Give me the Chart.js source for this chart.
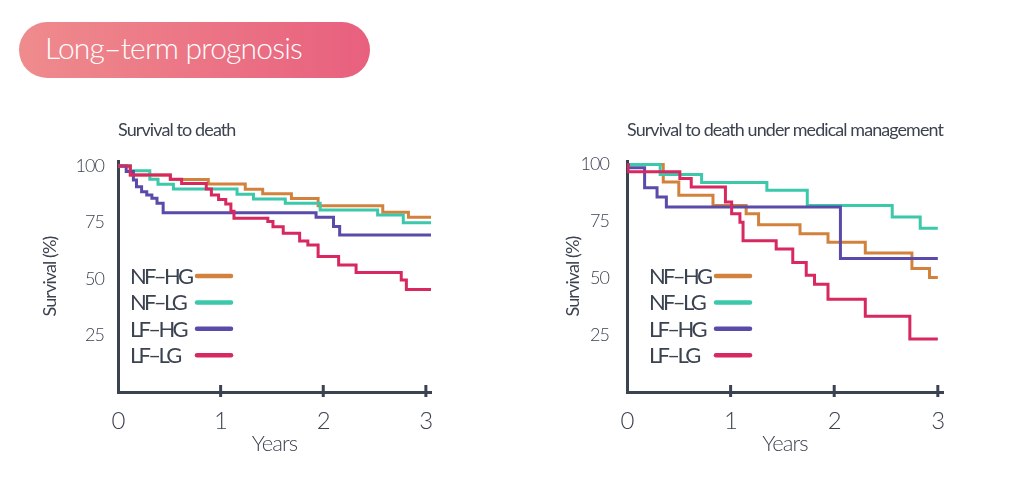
<!DOCTYPE html>
<html>
<head>
<meta charset="utf-8">
<script src="https://cdn.jsdelivr.net/npm/chart.js@4/dist/chart.umd.min.js"></script>
<style>
  html, body { margin: 0; padding: 0; background: #fff; }
  body { width: 1024px; height: 489px; position: relative; overflow: hidden; font-family: Lato, 'Open Sans', sans-serif; }
  .pill {
    position: absolute; left: 19px; top: 22px; width: 351px; height: 56px;
    border-radius: 28px; box-sizing: border-box; padding-left: 26px;
    background: linear-gradient(90deg, #ef8b8d 0%, #e8607e 100%);
    color: #fff; font-size: 30px; font-weight: 300; line-height: 50px; letter-spacing: -0.8px;
  }
  .box { position: absolute; top: 100px; width: 480px; height: 380px; }
</style>
</head>
<body>
<div class="pill">Long–term prognosis</div>
<div class="box" style="left:0px"><canvas id="leftChart"></canvas></div>
<div class="box" style="left:512px"><canvas id="rightChart"></canvas></div>
<script>
// Group labels and colours
var groups = ['NF–HG', 'NF–LG', 'LF–HG', 'LF–LG'];
var colors = ['#d2823c', '#3cc8aa', '#5a4baa', '#d7285f'];

// Axis ticks
var xTicks = [0, 1, 2, 3];
var yTicks = [25, 50, 75, 100];

// Survival to death (years, survival %)
var deathNFHG_t = [0, 0.12, 0.51, 0.88, 1.24, 1.41, 1.69, 1.95, 2.58, 2.83, 3.05];
var deathNFHG_s = [100, 96, 94, 92, 89.7, 87.7, 85.6, 82.4, 79.5, 77.3, 77.3];
var deathNFLG_t = [0, 0.12, 0.31, 0.39, 0.54, 1.16, 1.32, 1.63, 1.97, 2.53, 2.78, 3.05];
var deathNFLG_s = [100, 97.9, 94.1, 91.9, 89.8, 87.5, 85.4, 83.5, 80.5, 78.3, 74.9, 74.9];
var deathLFHG_t = [0, 0.08, 0.15, 0.18, 0.23, 0.28, 0.33, 0.38, 0.44, 1.93, 2.10, 2.16, 3.05];
var deathLFHG_s = [100, 97.5, 93.8, 90.8, 88.6, 87.2, 85.7, 83.5, 79.3, 77.3, 73.2, 69.5, 69.5];
var deathLFLG_t = [0, 0.12, 0.51, 0.62, 0.86, 0.91, 0.98, 1.05, 1.10, 1.13, 1.46, 1.51, 1.61, 1.77, 1.85, 1.95, 2.15, 2.32, 2.76, 2.81, 3.05];
var deathLFLG_s = [100, 96, 94.1, 92.3, 89.8, 87.2, 85.2, 83.2, 80, 76.9, 75.4, 73.1, 70.2, 66.8, 65, 59.9, 56.2, 52.9, 49.6, 45.4, 45.4];

// Survival to death under medical management
var medNFHG_t = [0, 0.35, 0.50, 0.83, 1.15, 1.27, 1.67, 1.94, 2.30, 2.75, 2.92, 3.0];
var medNFHG_s = [100, 92.3, 86.4, 82, 78.3, 73.5, 69.5, 65.8, 61.1, 54.3, 50.3, 50.3];
var medNFLG_t = [0, 0.32, 0.72, 1.35, 1.74, 2.56, 2.83, 3.0];
var medNFLG_s = [100, 95.6, 92, 88.6, 82, 76.9, 72, 72];
var medLFHG_t = [0, 0.01, 0.17, 0.29, 0.38, 2.06, 3.0];
var medLFHG_s = [100, 98.5, 89.7, 85.7, 81.3, 58.7, 58.7];
var medLFLG_t = [0, 0.01, 0.51, 0.62, 0.95, 1.01, 1.09, 1.12, 1.44, 1.60, 1.73, 1.81, 1.94, 2.30, 2.73, 3.0];
var medLFLG_s = [100, 96.8, 93.8, 90.1, 83.5, 78.3, 74.6, 66.5, 62.8, 56.9, 51.3, 47.3, 40.7, 33.3, 23.3, 23.3];

var textColor = '#3c4350';
var axisColor = '#3c4350';

Chart.defaults.font.family = 'Lato';
Chart.defaults.color = textColor;

// zip time and survival arrays into points
function points(t, s) {
    return t.map(function (v, i) { return { x: v, y: s[i] }; });
}

function makeDatasets(series) {
    return series.map(function (pair, i) {
        return {
            label: groups[i],
            data: points(pair[0], pair[1]),
            borderColor: colors[i],
            borderWidth: 3,
            stepped: true,
            pointRadius: 0,
            fill: false,
            order: 4 - i  // LF-LG drawn on top
        };
    });
}

// tighter text, like the original artwork
const spacingPlugin = {
    id: 'spacing',
    beforeDraw(chart) {
        chart.ctx.letterSpacing = '-0.9px';
    }
};

// small tick marks crossing the x axis
const tickMarks = {
    id: 'tickMarks',
    afterDraw(chart) {
        const ctx = chart.ctx;
        const x = chart.scales.x;
        const bottom = chart.chartArea.bottom;
        ctx.save();
        ctx.strokeStyle = axisColor;
        ctx.lineWidth = 3;
        xTicks.forEach(function (v) {
            if (v === 0) return;
            const px = x.getPixelForValue(v);
            ctx.beginPath();
            ctx.moveTo(px, bottom - 7);
            ctx.lineTo(px, bottom + 5);
            ctx.stroke();
        });
        ctx.restore();
    }
};

// legend inside the plot: text first, line swatch after
const sideLegend = {
    id: 'sideLegend',
    afterDatasetsDraw(chart, args, opts) {
        const ctx = chart.ctx;
        const area = chart.chartArea;
        ctx.save();
        ctx.font = '22px Lato';
        ctx.letterSpacing = '-2.7px';
        ctx.textBaseline = 'alphabetic';
        ctx.textAlign = 'left';
        chart.data.datasets.forEach(function (ds, i) {
            const y = area.top + opts.top + i * opts.gap;
            const x = area.left + opts.left;
            ctx.fillStyle = textColor;
            ctx.fillText(ds.label, x, y + 8);
            ctx.beginPath();
            ctx.strokeStyle = ds.borderColor;
            ctx.lineWidth = 4.5;
            ctx.lineCap = 'round';
            ctx.moveTo(x + 67, y);
            ctx.lineTo(x + 101, y);
            ctx.stroke();
        });
        ctx.restore();
    }
};

function makeChart(id, title, series, cfg) {
    return new Chart(document.getElementById(id), {
        type: 'line',
        data: { datasets: makeDatasets(series) },
        plugins: [spacingPlugin, tickMarks, sideLegend],
        options: {
            responsive: true,
            maintainAspectRatio: false,
            animation: false,
            layout: { padding: { top: 19, right: 49, bottom: 0, left: 0 } },
            scales: {
                x: {
                    type: 'linear',
                    min: 0,
                    max: cfg.xMax,
                    afterBuildTicks: function (scale) {
                        scale.ticks = xTicks.map(function (v) { return { value: v }; });
                    },
                    afterFit: function (scale) { scale.height = 88; },
                    grid: { display: false },
                    border: { display: true, color: axisColor, width: 3 },
                    ticks: { padding: 7, font: { size: 24, weight: '300' }, color: textColor },
                    title: {
                        display: true, text: 'Years', color: textColor,
                        font: { size: 22, weight: '300' },
                        padding: { top: 0, bottom: 23 }
                    }
                },
                y: {
                    min: 0,
                    max: cfg.yMax,
                    afterBuildTicks: function (scale) {
                        scale.ticks = yTicks.map(function (v) { return { value: v }; });
                    },
                    afterFit: function (scale) { scale.width = cfg.yWidth; },
                    grid: { display: false },
                    border: { display: true, color: axisColor, width: 3 },
                    ticks: { padding: cfg.tickPad, font: { size: 18, weight: '300' }, color: textColor },
                    title: {
                        display: true, text: 'Survival (%)', color: textColor,
                        font: { size: 18 },
                        padding: { top: cfg.titlePad, bottom: 0 }
                    }
                }
            },
            plugins: {
                legend: { display: false },
                tooltip: { enabled: false },
                title: {
                    display: true, text: title, align: 'start', fullSize: false,
                    color: textColor,
                    font: { size: 18, weight: 'normal' },
                    padding: { top: 0, bottom: 20.4 }
                },
                sideLegend: { left: cfg.legendLeft, top: 115, gap: 26.4 }
            }
        }
    });
}

makeChart('leftChart', 'Survival to death', [
    [deathNFHG_t, deathNFHG_s],
    [deathNFLG_t, deathNFLG_s],
    [deathLFHG_t, deathLFHG_s],
    [deathLFLG_t, deathLFLG_s]
], { xMax: 3.05, yMax: 102.2, yWidth: 118, tickPad: 6, titlePad: 39.2, legendLeft: 12 });

makeChart('rightChart', 'Survival to death under medical management', [
    [medNFHG_t, medNFHG_s],
    [medNFLG_t, medNFLG_s],
    [medLFHG_t, medLFHG_s],
    [medLFLG_t, medLFLG_s]
], { xMax: 3.05, yMax: 101.5, yWidth: 115, tickPad: 10, titlePad: 50.4, legendLeft: 22 });
</script>
</body>
</html>
